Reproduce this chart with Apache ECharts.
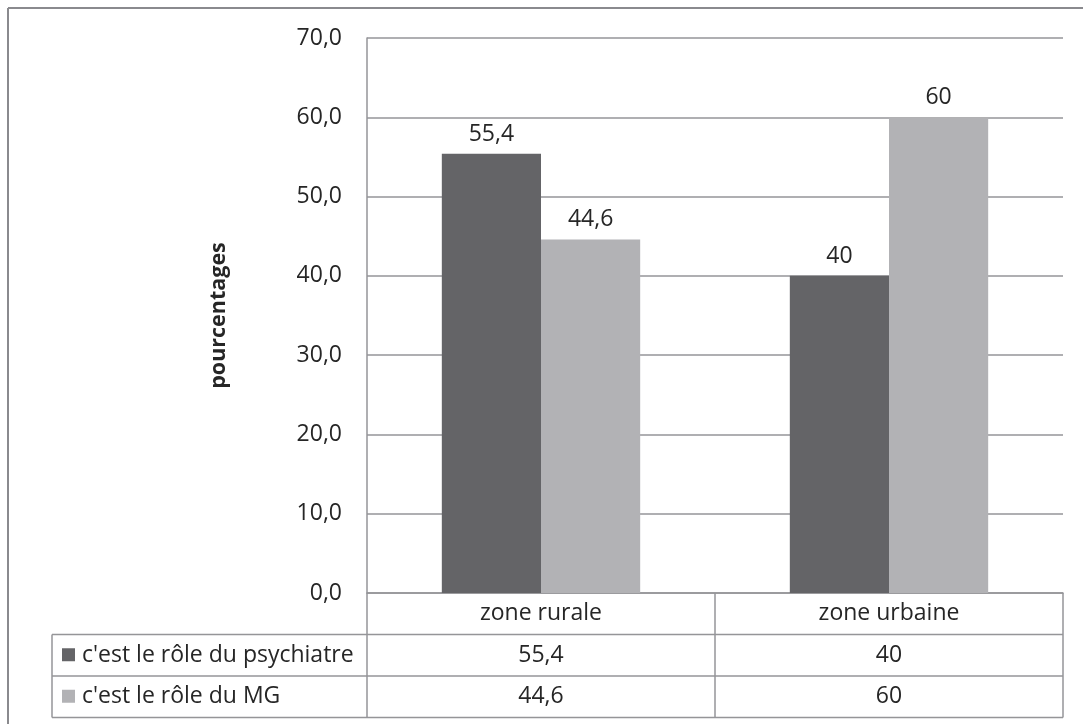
<!DOCTYPE html>
<html>
<head>
<meta charset="utf-8">
<script src="https://cdn.jsdelivr.net/npm/echarts@6/dist/echarts.min.js"></script>
<style>
html,body{margin:0;padding:0;background:#fff;}
#chart{width:1083px;height:724px;}
</style>
</head>
<body>
<div id="chart"></div>
<script>
var categories = ['zone rurale', 'zone urbaine'];
var seriesNames = ["c'est le rôle du psychiatre", "c'est le rôle du MG"];
var psychiatre = [55.4, 40];
var mg = [44.6, 60];
var yTicks = [0, 10, 20, 30, 40, 50, 60, 70];

var colors = ['#646467', '#b2b2b5'];
var lineColor = '#959598';
var fontFamily = '"Open Sans", "Noto Sans", sans-serif';
var textColor = '#262626';
var fs = 23;

function fmt(v) { return String(v).replace('.', ','); }

var chart = echarts.init(document.getElementById('chart'));
var gridTop = 38, gridBottom = 131, gridLeft = 367, gridRight = 20;

chart.setOption({
  animation: false,
  grid: { left: gridLeft, right: gridRight, top: gridTop, bottom: gridBottom },
  xAxis: {
    type: 'category',
    data: categories,
    axisLine: { show: true, lineStyle: { color: lineColor, width: 1.5 } },
    axisTick: { show: false },
    axisLabel: { show: false },
    splitLine: { show: false }
  },
  yAxis: {
    type: 'value',
    min: yTicks[0],
    max: yTicks[yTicks.length - 1],
    interval: 10,
    name: 'pourcentages',
    nameLocation: 'middle',
    nameRotate: 90,
    nameGap: 137,
    nameTextStyle: { fontFamily: fontFamily, fontWeight: 'bold', fontSize: 21.5, color: textColor },
    axisLine: { show: true, lineStyle: { color: lineColor, width: 1.5 } },
    axisTick: { show: false },
    axisLabel: {
      margin: 25,
      fontFamily: fontFamily, fontSize: fs, color: textColor,
      formatter: function (v) { return v.toFixed(1).replace('.', ','); }
    },
    splitLine: { show: true, lineStyle: { color: lineColor, width: 1.5 } }
  },
  series: [
    {
      name: seriesNames[0], type: 'bar', data: psychiatre,
      barGap: '0%', barCategoryGap: '43%',
      itemStyle: { color: colors[0] },
      label: { show: true, position: 'top', distance: 8, fontFamily: fontFamily, fontSize: fs, color: textColor,
        formatter: function (p) { return fmt(p.value); } }
    },
    {
      name: seriesNames[1], type: 'bar', data: mg,
      barGap: '0%', barCategoryGap: '43%',
      itemStyle: { color: colors[1] },
      label: { show: true, position: 'top', distance: 8, fontFamily: fontFamily, fontSize: fs, color: textColor,
        formatter: function (p) { return fmt(p.value); } }
    }
  ]
});

// Data table below the plot, positioned from the axis scale
var rows = [psychiatre, mg];
var y0 = chart.convertToPixel({ yAxisIndex: 0 }, 0);
var c0 = chart.convertToPixel({ xAxisIndex: 0 }, categories[0]);
var c1 = chart.convertToPixel({ xAxisIndex: 0 }, categories[1]);
var band = c1 - c0;
var rowH = 41.5;
var tableLeft = 52;
var plotLeft = c0 - band / 2;
var plotRight = c0 + band * (categories.length - 0.5);
var g = [];
function line(x1, y1, x2, y2, color, w) {
  g.push({ type: 'line', shape: { x1: x1, y1: y1, x2: x2, y2: y2 }, style: { stroke: color || lineColor, lineWidth: w || 1.5 }, silent: true });
}
function text(x, y, t, align) {
  var st = { text: t, x: x, y: y, align: align || 'center', verticalAlign: 'middle', fill: textColor, fontFamily: fontFamily, fontSize: fs };
  g.push({ type: 'text', style: st, silent: true });
}
// outer frame
line(8, 8, 1083, 8, '#8a8a8e', 2);
line(8, 8, 8, 724, '#8a8a8e', 2);
// header row verticals
var bottom = y0 + rowH * (rows.length + 1);
for (var i = 0; i <= categories.length; i++) {
  var x = plotLeft + band * i;
  line(x, y0, x, bottom);
}
line(tableLeft, y0 + rowH, tableLeft, bottom);
for (var r = 1; r <= rows.length + 1; r++) {
  line(tableLeft, y0 + rowH * r, plotRight, y0 + rowH * r);
}
categories.forEach(function (c, i) {
  text(c0 + band * i, y0 + rowH / 2, c);
});
rows.forEach(function (vals, r) {
  var cy = y0 + rowH * (r + 1.5);
  g.push({ type: 'rect', shape: { x: 62, y: cy - 7, width: 13, height: 13 }, style: { fill: colors[r] }, silent: true });
  text(82, cy, seriesNames[r], 'left');
  vals.forEach(function (v, i) {
    text(c0 + band * i, cy, fmt(v));
  });
});
chart.setOption({ graphic: g });
</script>
</body>
</html>
